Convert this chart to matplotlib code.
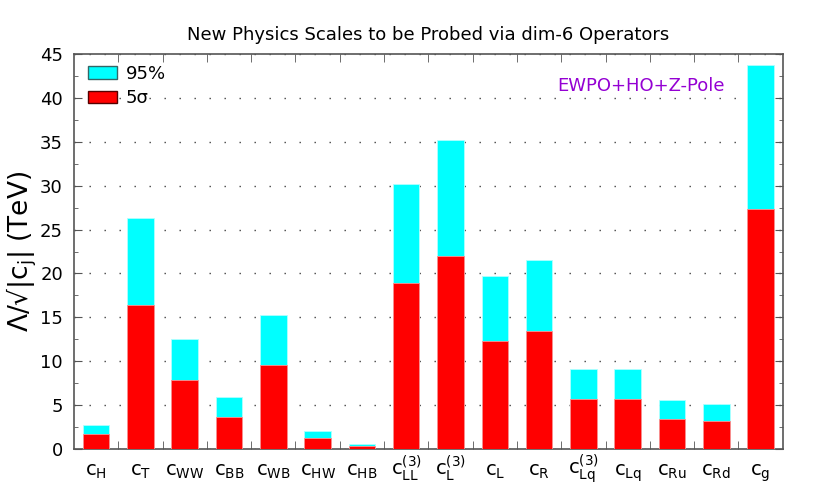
import matplotlib.pyplot as plt
import matplotlib.patches as mpatches
import numpy as np

plt.rcParams['mathtext.default'] = 'regular'

labels = [r'$c_{H}$', r'$c_{T}$', r'$c_{WW}$', r'$c_{BB}$', r'$c_{WB}$',
          r'$c_{HW}$', r'$c_{HB}$', r'$c_{LL}^{(3)}$', r'$c_{L}^{(3)}$',
          r'$c_{L}$', r'$c_{R}$', r'$c_{Lq}^{(3)}$', r'$c_{Lq}$',
          r'$c_{Ru}$', r'$c_{Rd}$', r'$c_{g}$']
val_95 = [2.7, 26.3, 12.5, 5.9, 15.3, 2.1, 0.6, 30.2, 35.2,
          19.75, 21.5, 9.15, 9.15, 5.55, 5.13, 43.8]
val_5s = [1.67, 16.4, 7.86, 3.68, 9.57, 1.3, 0.33, 18.9, 22.0,
          12.35, 13.45, 5.7, 5.7, 3.42, 3.2, 27.4]

BAR_WIDTH = 0.6


def show_fig():
    fig = plt.figure(figsize=(8.17, 4.91), dpi=100)
    ax = fig.add_axes([0.0906, 0.0855, 0.8674, 0.8045])
    index = np.arange(1, len(labels) + 1)

    ax.bar(index, val_95, BAR_WIDTH, color='#00ffff', edgecolor='#b0ffff',
           linewidth=0.6, zorder=2)
    ax.bar(index, val_5s, BAR_WIDTH, color='#ff0000', edgecolor='#ff9090',
           linewidth=0.6, zorder=3)

    ax.set_xlim(0.5, len(labels) + 0.5)
    ax.set_ylim(0, 45)

    ax.set_yticks(np.arange(0, 46, 5))
    ax.set_yticks(np.arange(0, 45, 2.5), minor=True)
    ax.set_xticks(index)
    ax.set_xticklabels(labels, fontsize=14)
    for lbl in ax.get_xticklabels():
        lbl.set_verticalalignment('baseline')
    ax.set_xticks(index[:-1] + 0.5, minor=True)

    ax.tick_params(axis='x', which='major', length=0, pad=19)
    ax.tick_params(axis='x', which='minor', direction='in', length=6,
                   top=True, bottom=True, color='#555555')
    ax.tick_params(axis='y', which='major', direction='in', length=6,
                   left=True, right=True, labelsize=13, color='#555555', pad=8)
    ax.tick_params(axis='y', which='minor', direction='in', length=3,
                   left=True, right=True, color='#555555')

    ax.yaxis.grid(True, which='major', linestyle=(0, (1, 9.8)),
                  color='#444444', linewidth=1.0, zorder=1)
    ax.set_axisbelow(True)
    for sp in ax.spines.values():
        sp.set_color('#555555')
        sp.set_linewidth(1.2)

    ax.set_title('New Physics Scales to be Probed via dim-6 Operators',
                 fontsize=13, pad=10)
    ax.set_ylabel(r'Λ/√|c$_j$| (TeV)', fontsize=19, labelpad=1)

    ax.text(0.80, 0.919, 'EWPO+HO+Z-Pole', transform=ax.transAxes,
            color='#9400d3', fontsize=13, ha='center', va='center')

    handles = [mpatches.Patch(facecolor='#00ffff', edgecolor='#336666', label='95%'),
               mpatches.Patch(facecolor='#ff0000', edgecolor='#550000', label='5σ')]
    ax.legend(handles=handles, loc='upper left', bbox_to_anchor=(0.004, 1.0),
              frameon=False, fontsize=13,
              handlelength=1.6, handleheight=0.7, borderaxespad=0.2,
              labelspacing=0.35, handletextpad=0.5)

    fig.savefig('out.png', dpi=100)


def main():
    show_fig()


if __name__ == "__main__":
    main()
